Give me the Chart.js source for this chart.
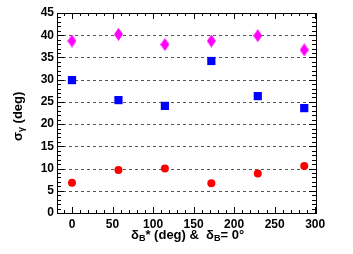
<!DOCTYPE html>
<html>
<head>
<meta charset="utf-8">
<script src="https://cdn.jsdelivr.net/npm/chart.js@4/dist/chart.umd.min.js"></script>
<style>
  html, body { margin: 0; padding: 0; background: #fff; }
  canvas { display: block; }
</style>
</head>
<body>
<canvas id="grafico" width="353" height="254"></canvas>
<script>
// dados
var anguloDeltaB = [0, 57.3, 114.6, 171.9, 229.2, 286.5];
var sigmaLosango = [38.7, 40.2, 37.9, 38.7, 39.9, 36.7];
var sigmaQuadrado = [29.9, 25.4, 24.1, 34.2, 26.3, 23.6];
var sigmaCirculo = [6.8, 9.7, 10.0, 6.7, 8.9, 10.6];
var ticksX = [0, 50, 100, 150, 200, 250, 300];
var ticksY = [0, 5, 10, 15, 20, 25, 30, 35, 40, 45];

var FONTE = '"Liberation Sans", Arial, sans-serif';

function pontos(ys) {
    return anguloDeltaB.map(function (x, i) { return { x: x, y: ys[i] }; });
}

// losango alongado como no ROOT
function criarLosango(cor) {
    var c = document.createElement('canvas');
    c.width = 9;
    c.height = 13;
    var g = c.getContext('2d');
    g.fillStyle = cor;
    g.beginPath();
    g.moveTo(4.5, 0);
    g.lineTo(9, 6.5);
    g.lineTo(4.5, 13);
    g.lineTo(0, 6.5);
    g.closePath();
    g.fill();
    return c;
}

// escreve texto com indices (subscrito)
function textoRico(ctx, partes, x, y, tamanho) {
    var pos = x;
    partes.forEach(function (p) {
        var t = p.sub ? tamanho * 0.7 : tamanho;
        ctx.font = 'bold ' + t + 'px ' + FONTE;
        ctx.fillText(p.t, pos, p.sub ? y + tamanho * 0.3 : y);
        pos += ctx.measureText(p.t).width;
    });
    return pos - x;
}

var moldura = {
    id: 'moldura',
    beforeDatasetsDraw: function (chart) {
        var ctx = chart.ctx;
        var a = chart.chartArea;
        var sx = chart.scales.x;
        var sy = chart.scales.y;
        ctx.save();

        // linhas de grade tracejadas
        ctx.strokeStyle = '#555';
        ctx.lineWidth = 1;
        ctx.setLineDash([3, 3]);
        ticksY.forEach(function (v) {
            if (v <= sy.min || v >= sy.max) return;
            var py = Math.round(sy.getPixelForValue(v)) + 0.5;
            ctx.beginPath();
            ctx.moveTo(a.left, py);
            ctx.lineTo(a.right, py);
            ctx.stroke();
        });
        ctx.setLineDash([]);

        // marcas internas
        ctx.strokeStyle = '#000';
        for (var v = -10; v <= 300; v += 10) {
            var px = Math.round(sx.getPixelForValue(v)) + 0.5;
            var len = v % 50 === 0 ? 6 : 3;
            ctx.beginPath();
            ctx.moveTo(px, a.bottom);
            ctx.lineTo(px, a.bottom - len);
            ctx.moveTo(px, a.top);
            ctx.lineTo(px, a.top + len);
            ctx.stroke();
        }
        for (var w = 0; w <= 45; w += 1) {
            var py2 = Math.round(sy.getPixelForValue(w)) + 0.5;
            var len2 = w % 5 === 0 ? 7 : 4;
            ctx.beginPath();
            ctx.moveTo(a.left, py2);
            ctx.lineTo(a.left + len2, py2);
            ctx.moveTo(a.right, py2);
            ctx.lineTo(a.right - len2, py2);
            ctx.stroke();
        }

        // borda
        ctx.lineWidth = 1;
        ctx.strokeRect(Math.round(a.left) + 0.5, Math.round(a.top) + 0.5,
            Math.round(a.right - a.left), Math.round(a.bottom - a.top));

        // titulos dos eixos
        ctx.fillStyle = '#000';
        ctx.textBaseline = 'middle';
        var tituloX = [
            { t: '\u03b4' }, { t: 'B', sub: true }, { t: '* (deg) &  \u03b4' },
            { t: 'B', sub: true }, { t: '= 0\u00b0' }
        ];
        textoRico(ctx, tituloX, 131, 235, 13);

        var tituloY = [{ t: '\u03c3' }, { t: '\u03b3', sub: true }, { t: ' (deg)' }];
        ctx.translate(18, 141);
        ctx.rotate(-Math.PI / 2);
        textoRico(ctx, tituloY, 0, 0, 13);
        ctx.restore();
    }
};

function inicializarGrafico() {
    new Chart(document.getElementById('grafico').getContext('2d'), {
        type: 'scatter',
        data: {
            datasets: [{
                label: 'losango',
                data: pontos(sigmaLosango),
                pointStyle: criarLosango('#ff00ff'),
                backgroundColor: '#ff00ff'
            }, {
                label: 'quadrado',
                data: pontos(sigmaQuadrado),
                pointStyle: 'rect',
                pointRadius: 5.8,
                backgroundColor: '#0000ff',
                borderColor: '#0000ff',
                borderWidth: 0
            }, {
                label: 'circulo',
                data: pontos(sigmaCirculo),
                pointStyle: 'circle',
                pointRadius: 4,
                backgroundColor: '#ff0000',
                borderColor: '#ff0000',
                borderWidth: 0
            }]
        },
        options: {
            responsive: false,
            animation: false,
            layout: { padding: { top: 13, right: 37, left: 0, bottom: 0 } },
            plugins: {
                legend: { display: false },
                tooltip: { enabled: false }
            },
            scales: {
                x: {
                    type: 'linear',
                    min: -18.5,
                    max: 301,
                    grid: { display: false, drawTicks: false },
                    border: { display: false },
                    afterBuildTicks: function (s) {
                        s.ticks = ticksX.map(function (v) { return { value: v }; });
                    },
                    afterFit: function (s) { s.height = 41; },
                    ticks: {
                        color: '#000',
                        padding: 4,
                        maxRotation: 0,
                        font: { family: FONTE, size: 12, weight: 'bold' }
                    }
                },
                y: {
                    min: 0,
                    max: 45,
                    grid: { display: false, drawTicks: false },
                    border: { display: false },
                    afterBuildTicks: function (s) {
                        s.ticks = ticksY.map(function (v) { return { value: v }; });
                    },
                    afterFit: function (s) { s.width = 57; },
                    ticks: {
                        color: '#000',
                        padding: 3,
                        font: { family: FONTE, size: 12, weight: 'bold' }
                    }
                }
            }
        },
        plugins: [moldura]
    });
}

window.onload = inicializarGrafico;
</script>
</body>
</html>
